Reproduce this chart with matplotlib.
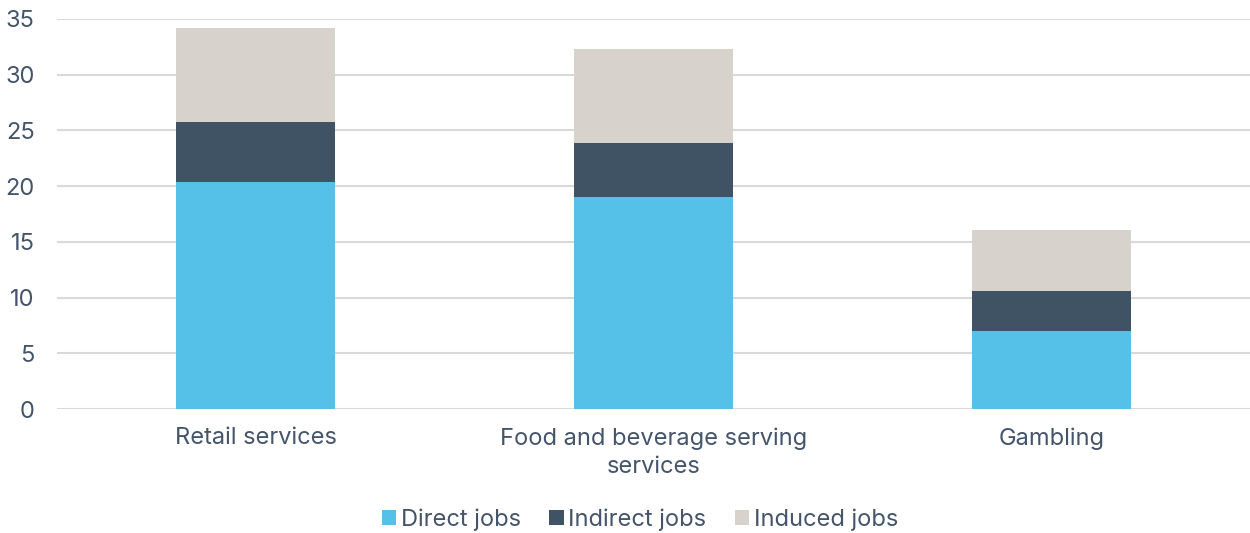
import matplotlib
matplotlib.use("Agg")
import matplotlib.pyplot as plt
import numpy as np

categories = ["Retail services", "Food and beverage serving\nservices", "Gambling"]
direct_jobs = [20.4, 19.0, 7.0]
indirect_jobs = [5.4, 4.9, 3.6]
induced_jobs = [8.4, 8.4, 5.5]
y_ticks = [0, 5, 10, 15, 20, 25, 30, 35]

text_color = "#44546A"
colors = ["#56C1E8", "#405364", "#D7D2CC"]
labels = ["Direct jobs", "Indirect jobs", "Induced jobs"]

plt.rcParams["font.family"] = ["Inter", "DejaVu Sans"]

fig = plt.figure(figsize=(12.5, 5.33), dpi=100)
ax = fig.add_axes([0.0456, 0.2326, 0.9544, 0.7318])

x = np.arange(len(categories))
bottom = np.zeros(len(categories))
for vals, c, lab in zip([direct_jobs, indirect_jobs, induced_jobs], colors, labels):
    ax.bar(x, vals, width=0.4, bottom=bottom, color=c, label=lab, zorder=3)
    bottom += np.array(vals)

ax.set_xlim(-0.5, 2.5)
ax.set_ylim(0, 35)
ax.set_yticks(y_ticks)
ax.set_xticks(x)
ax.set_xticklabels(categories, linespacing=1.4)
ax.yaxis.grid(True, color="#D9D9D9", linewidth=1.5, zorder=0)
ax.set_axisbelow(True)
for s in ax.spines.values():
    s.set_visible(False)
ax.tick_params(axis="both", length=0, labelsize=17, labelcolor=text_color)
ax.tick_params(axis="y", pad=16)
ax.tick_params(axis="x", pad=13)

leg = fig.legend(loc="center", bbox_to_anchor=(0.512, 0.025), ncol=3, frameon=False,
                 fontsize=17, labelcolor=text_color, handlelength=0.6, handleheight=0.6,
                 handletextpad=0.2, columnspacing=1.2)

fig.savefig("out.png", dpi=100)
